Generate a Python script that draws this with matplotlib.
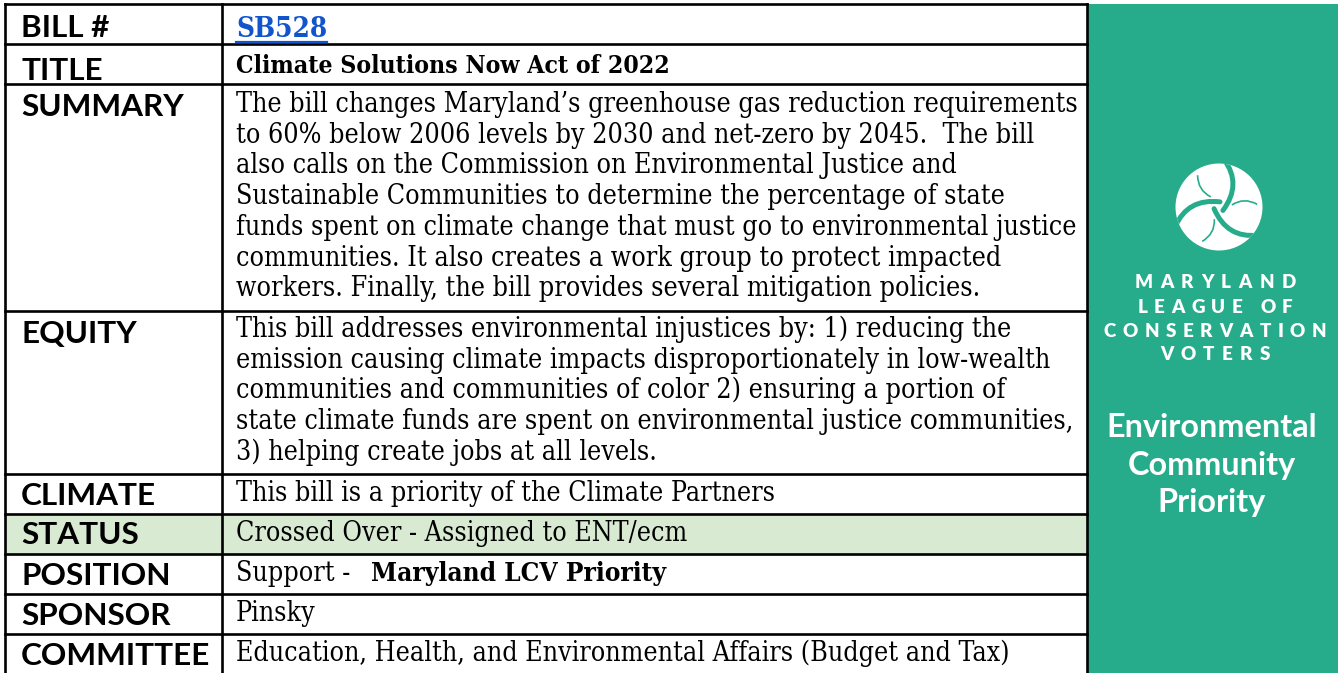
import matplotlib
matplotlib.use("Agg")
import matplotlib.pyplot as plt
from matplotlib.patches import Rectangle, Circle, PathPatch
from matplotlib.path import Path
from matplotlib import font_manager as fm
import numpy as np

# ---------------- data ----------------
LABELS = ["BILL #", "TITLE", "SUMMARY", "EQUITY", "CLIMATE", "STATUS",
          "POSITION", "SPONSOR", "COMMITTEE"]
BILL = "SB528"
TITLE = "Climate Solutions Now Act of 2022"
SUMMARY = [
    "The bill changes Maryland\u2019s greenhouse gas reduction requirements",
    "to 60% below 2006 levels by 2030 and net-zero by 2045.  The bill",
    "also calls on the Commission on Environmental Justice and",
    "Sustainable Communities to determine the percentage of state",
    "funds spent on climate change that must go to environmental justice",
    "communities. It also creates a work group to protect impacted",
    "workers. Finally, the bill provides several mitigation policies.",
]
EQUITY = [
    "This bill addresses environmental injustices by: 1) reducing the",
    "emission causing climate impacts disproportionately in low-wealth",
    "communities and communities of color 2) ensuring a portion of",
    "state climate funds are spent on environmental justice communities,",
    "3) helping create jobs at all levels.",
]
CLIMATE = "This bill is a priority of the Climate Partners"
STATUS = "Crossed Over - Assigned to ENT/ecm"
POSITION_PLAIN = "Support -  "
POSITION_BOLD = "Maryland LCV Priority"
SPONSOR = "Pinsky"
COMMITTEE = "Education, Health, and Environmental Affairs (Budget and Tax)"
ORG = ["MARYLAND", "LEAGUE OF", "CONSERVATION", "VOTERS"]
BADGE = ["Environmental", "Community", "Priority"]

# ---------------- style / layout ----------------
W, H = 1338, 673
TEAL = "#27AC8B"
STATUS_BG = "#D9EAD3"
LINK = "#1155CC"
SERIF = "DejaVu Serif"
SANS = "Lato"
# use a condensed serif if one is installed (closer proportions to the original)
HAS_COND = any(f.name == "DejaVu Serif" and "ondensed" in str(f.stretch).lower()
               or "DejaVuSerifCondensed" in f.fname for f in fm.fontManager.ttflist)
SERIF_STRETCH = "condensed" if HAS_COND else "normal"

ROW_EDGES = [4, 44, 84, 311, 474, 514, 554, 594, 634, 673]
X_LEFT, X_MID, X_RIGHT = 5, 222, 1087
LABEL_X, TEXT_X = 21, 236
LINE_STEP = 30.7

fig = plt.figure(figsize=(W / 100, H / 100), dpi=100)
ax = fig.add_axes([0, 0, 1, 1])
ax.set_xlim(0, W)
ax.set_ylim(H, 0)
ax.axis("off")
fig.canvas.draw()
R = fig.canvas.get_renderer()


def width(t):
    return t.get_window_extent(renderer=R).width


def fit(t, target):
    t.set_fontsize(t.get_fontsize() * target / width(t))
    return t.get_fontsize()


def serif(x, y, s, fs, **kw):
    return ax.text(x, y, s, fontsize=fs, family=SERIF, stretch=SERIF_STRETCH,
                   va="baseline", ha="left", zorder=4, **kw)


# backgrounds
ax.add_patch(Rectangle((X_RIGHT, ROW_EDGES[0]), W - X_RIGHT, H - ROW_EDGES[0],
                       facecolor=TEAL, edgecolor="none", zorder=0))
ax.add_patch(Rectangle((X_LEFT, ROW_EDGES[5]), X_RIGHT - X_LEFT,
                       ROW_EDGES[6] - ROW_EDGES[5],
                       facecolor=STATUS_BG, edgecolor="none", zorder=0))

# grid lines
for y in ROW_EDGES[:-1]:
    ax.plot([X_LEFT, X_RIGHT], [y, y], color="black", lw=1.9,
            solid_capstyle="projecting", zorder=3)
for x in (X_LEFT, X_MID, X_RIGHT):
    ax.plot([x, x], [ROW_EDGES[0], H + 2], color="black", lw=1.9,
            solid_capstyle="projecting", zorder=3)

# ---------------- labels ----------------
probe = ax.text(0, -100, "COMMITTEE", fontsize=20, family=SANS, weight="bold")
lab_fs = fit(probe, 189)
probe.remove()
label_off = [33, 36, 32, 32, 31, 30, 31, 31, 31]
for i, lab in enumerate(LABELS):
    ax.text(LABEL_X, ROW_EDGES[i] + label_off[i], lab, fontsize=lab_fs,
            family=SANS, weight="bold", va="baseline", ha="left",
            color="black", zorder=4)

# ---------------- content ----------------
probe = serif(0, -100, SUMMARY[0], 16)
txt_fs = fit(probe, 842)
probe.remove()

# bill link
t = serif(TEXT_X, ROW_EDGES[0] + 33, BILL, 20, weight="bold", color=LINK)
fit(t, 91)
bw = width(t)
ax.plot([TEXT_X, TEXT_X + bw], [ROW_EDGES[0] + 37.5] * 2, color=LINK,
        lw=1.6, zorder=4)

# title
t = serif(TEXT_X, ROW_EDGES[1] + 29, TITLE, 14, weight="bold", color="black")
fit(t, 436)

for k, line in enumerate(SUMMARY):
    serif(TEXT_X, ROW_EDGES[2] + 28 + k * LINE_STEP, line, txt_fs, color="black")
for k, line in enumerate(EQUITY):
    serif(TEXT_X, ROW_EDGES[3] + 26 + k * LINE_STEP, line, txt_fs, color="black")

for idx, s in ((4, CLIMATE), (5, STATUS), (7, SPONSOR), (8, COMMITTEE)):
    serif(TEXT_X, ROW_EDGES[idx] + 27, s, txt_fs, color="black")

t = serif(TEXT_X, ROW_EDGES[6] + 27, POSITION_PLAIN, txt_fs, color="black")
pw = width(t)
serif(TEXT_X + pw + 0.3 * txt_fs, ROW_EDGES[6] + 27, POSITION_BOLD,
      txt_fs * 0.98, weight="bold", color="black")

# ---------------- logo ----------------
C = np.array([1219.0, 207.0])
RAD = 43.5
circ = Circle(C, RAD, facecolor="white", edgecolor="none", zorder=4)
ax.add_patch(circ)


def d(a):
    a = np.deg2rad(a)
    return np.array([np.cos(a), np.sin(a)])


for k in range(3):
    a = -84 + 120 * k
    p0 = C + 0.12 * RAD * d(a + 125)
    p1 = C + 0.75 * RAD * d(a + 40)
    p2 = C + 1.1 * RAD * d(a)
    gap = PathPatch(Path([p0, p1, p2], [Path.MOVETO, Path.CURVE3, Path.CURVE3]),
                    facecolor="none", edgecolor=TEAL, lw=3.6, zorder=5,
                    capstyle="round")
    ax.add_patch(gap)
    gap.set_clip_path(circ)
    # leaf vein
    v0 = C + 0.30 * RAD * d(a + 75)
    v1 = C + 0.62 * RAD * d(a + 62)
    v2 = C + 0.88 * RAD * d(a + 80)
    vein = PathPatch(Path([v0, v1, v2], [Path.MOVETO, Path.CURVE3, Path.CURVE3]),
                     facecolor="none", edgecolor=TEAL, lw=1.2, zorder=5)
    ax.add_patch(vein)
    vein.set_clip_path(circ)

# ---------------- org name (letter spaced) ----------------
ORG_BASE = [288, 313, 337, 360]
ORG_W = [161, 155, 223, 110]
ORG_CX = 1215
ORG_FS = 13.5
for s, yb, tw in zip(ORG, ORG_BASE, ORG_W):
    ts, ws = [], []
    for ch in s:
        tt = ax.text(0, yb, ch if ch != " " else "", fontsize=ORG_FS,
                     family=SANS, weight="heavy", color="white",
                     va="baseline", ha="left", zorder=5)
        ts.append(tt)
        ws.append(width(tt) if ch != " " else 0.25 * ORG_FS * 100 / 72)
    gap = (tw - sum(ws)) / (len(s) - 1)
    x = ORG_CX - tw / 2
    for tt, w_ in zip(ts, ws):
        tt.set_x(x)
        x += w_ + gap

# ---------------- badge text ----------------
probe = ax.text(0, -100, BADGE[0], fontsize=20, family=SANS, weight="bold")
badge_fs = fit(probe, 210)
probe.remove()
for s, yb in zip(BADGE, [437, 475, 512]):
    ax.text(1212, yb, s, fontsize=badge_fs, family=SANS, weight="bold",
            color="white", ha="center", va="baseline", zorder=5)

fig.savefig("out.png", dpi=100, facecolor="white")
